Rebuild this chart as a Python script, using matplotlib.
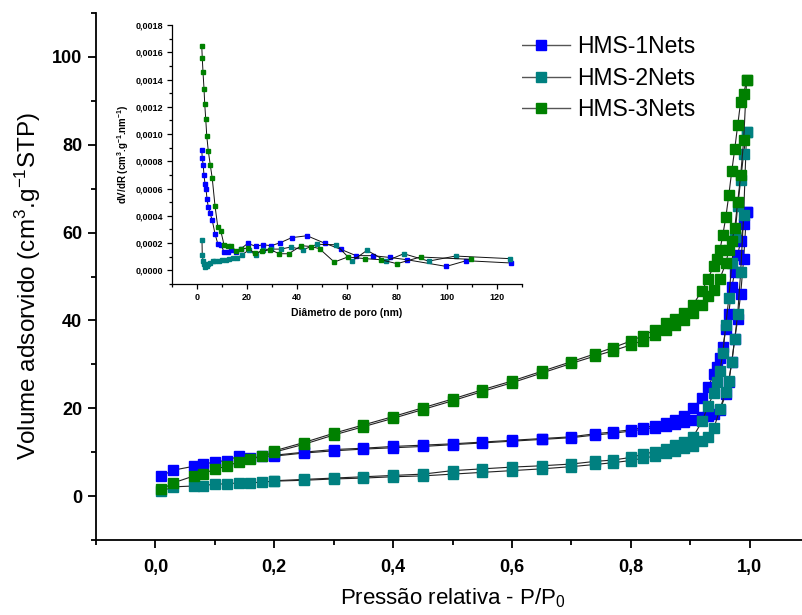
import matplotlib
matplotlib.use("Agg")
import matplotlib.pyplot as plt
from matplotlib.lines import Line2D
from matplotlib.ticker import MultipleLocator, FuncFormatter

plt.rcParams['font.family'] = ['Liberation Sans', 'DejaVu Sans']
plt.rcParams['mathtext.fontset'] = 'custom'
plt.rcParams['mathtext.rm'] = 'Liberation Sans'
plt.rcParams['mathtext.it'] = 'Liberation Sans:italic'
plt.rcParams['mathtext.bf'] = 'Liberation Sans:bold'

# ---------------- main isotherm data ----------------
labels = ["HMS-1Nets", "HMS-2Nets", "HMS-3Nets"]
colors = ["#0000FF", "#008080", "#008000"]

p_ads = [0.01, 0.03, 0.065, 0.08, 0.10, 0.12, 0.14, 0.16, 0.18, 0.20, 0.25, 0.30,
         0.35, 0.40, 0.45, 0.50, 0.55, 0.60, 0.65, 0.70, 0.74, 0.77, 0.80, 0.82,
         0.84, 0.86, 0.875, 0.89, 0.905, 0.92, 0.93, 0.94, 0.95, 0.96, 0.965,
         0.97, 0.975, 0.98, 0.985, 0.99, 0.995]
p_des = [0.995, 0.99, 0.985, 0.98, 0.975, 0.97, 0.965, 0.96, 0.955, 0.95, 0.945,
         0.94, 0.93, 0.92, 0.905, 0.89, 0.875, 0.86, 0.84, 0.82, 0.80, 0.77, 0.74,
         0.70, 0.65, 0.60, 0.55, 0.50, 0.45, 0.40, 0.35, 0.30, 0.25, 0.20]

hms1_ads = [4.6, 5.9, 6.8, 7.2, 7.8, 8.1, 9.1, 8.6, 9.1, 9.1, 9.8, 10.3, 10.7, 11.0,
            11.3, 11.7, 12.1, 12.5, 12.9, 13.3, 13.9, 14.3, 14.8, 15.2, 15.6, 15.9,
            16.3, 16.9, 17.4, 17.9, 18.3, 18.6, 19.5, 23.2, 26.0, 30.5, 35.8, 40.3,
            46.0, 54.0, 64.7]
hms1_des = [64.7, 62.0, 58.0, 55.0, 51.0, 47.5, 41.5, 38.1, 34.0, 31.5, 29.5, 27.8,
            24.8, 22.4, 20.1, 18.3, 17.3, 16.7, 16.0, 15.6, 15.1, 14.6, 14.2, 13.5,
            13.1, 12.7, 12.3, 11.9, 11.6, 11.3, 10.9, 10.6, 10.0, 9.3]

hms2_ads = [1.1, 2.1, 2.3, 2.4, 2.7, 2.8, 3.0, 3.0, 3.2, 3.4, 3.6, 3.9, 4.1, 4.4,
            4.6, 5.0, 5.4, 5.8, 6.2, 6.7, 7.2, 7.6, 8.1, 8.6, 9.1, 9.7, 10.3, 11.0,
            11.5, 12.5, 13.5, 15.5, 19.8, 23.8, 26.3, 30.5, 35.8, 41.5, 51.0, 64.0,
            83.0]
hms2_des = [83.0, 78.0, 72.0, 66.0, 59.0, 53.0, 45.0, 39.0, 32.5, 28.5, 26.0, 23.5,
            20.5, 17.0, 13.5, 12.4, 11.6, 10.8, 10.1, 9.5, 8.8, 8.2, 7.9, 7.3, 6.9,
            6.6, 6.2, 5.8, 5.0, 4.7, 4.4, 4.1, 3.8, 3.5]

hms3_ads = [1.5, 3.0, 4.6, 5.1, 6.1, 6.8, 7.8, 8.4, 9.1, 10.0, 11.8, 13.9, 15.8,
            17.7, 19.7, 21.7, 23.8, 25.8, 28.0, 30.2, 31.9, 33.1, 34.4, 35.4, 36.6,
            37.8, 39.0, 40.2, 41.6, 43.5, 45.5, 47.0, 49.5, 53.0, 56.0, 58.0, 61.0,
            67.0, 73.0, 81.0, 94.7]
hms3_des = [94.7, 91.5, 89.8, 84.5, 79.0, 74.0, 68.5, 63.5, 59.5, 56.0, 54.0, 52.5,
            49.5, 46.8, 43.6, 41.8, 40.3, 39.3, 37.8, 36.5, 35.3, 33.8, 32.4, 30.6,
            28.4, 26.2, 24.2, 22.1, 20.1, 18.1, 16.2, 14.3, 12.2, 10.3]

# ---------------- inset pore size distribution data ----------------
d1 = [1.9, 2.1, 2.5, 2.8, 3.2, 3.6, 4.0, 4.5, 5.2, 6.1, 7.2, 8.3, 9.5, 10.8, 12.2,
      13.6, 15.5, 17.6, 20.3, 23.5, 26.3, 29.7, 33.3, 37.9, 44.0, 51.0, 57.6, 63.6,
      70.3, 77.0, 84.0, 99.7, 107.7, 125.7]
v1 = [0.000885, 0.000824, 0.00077, 0.000697, 0.000636, 0.000599, 0.000526, 0.000465,
      0.000421, 0.000367, 0.000269, 0.000196, 0.000188, 0.000137, 0.000137, 0.000152,
      0.000134, 0.000159, 0.000198, 0.000176, 0.000188, 0.000181, 0.000203, 0.00024,
      0.000254, 0.0002, 0.000154, 0.000108, 0.000108, 0.000095, 0.000078, 0.000029,
      0.000071, 0.000054]

d2 = [2.0, 2.1, 2.5, 2.9, 3.3, 3.9, 4.5, 5.2, 6.3, 7.3, 8.6, 10.0, 11.4, 12.7, 14.2,
      15.9, 18.0, 20.6, 23.4, 26.2, 29.5, 33.5, 37.5, 42.4, 48.0, 55.7, 62.0, 68.0,
      75.6, 82.7, 92.7, 103.4, 125.2]
v2 = [0.00022, 0.000112, 0.000068, 0.000044, 0.000024, 0.000032, 0.000044, 0.000054,
      0.000068, 0.000066, 0.000068, 0.000073, 0.000073, 0.000086, 0.000093, 0.000088,
      0.000115, 0.000147, 0.000115, 0.000152, 0.000156, 0.000156, 0.000171, 0.000152,
      0.000191, 0.000188, 0.000068, 0.000147, 0.000068, 0.000122, 0.000068, 0.000105,
      0.000086]

d3 = [1.9, 2.1, 2.4, 2.8, 3.1, 3.5, 3.9, 4.5, 5.3, 6.1, 7.2, 8.3, 9.5, 10.8, 12.2,
      13.6, 15.6, 17.6, 20.3, 23.0, 25.9, 29.3, 32.9, 36.7, 41.7, 45.6, 49.0, 54.9,
      60.3, 67.3, 73.6, 80.0, 89.4, 109.4]
v3 = [0.001648, 0.00156, 0.001455, 0.001333, 0.001218, 0.001108, 0.000988, 0.000878,
      0.000775, 0.000675, 0.000474, 0.00032, 0.000291, 0.000188, 0.000181, 0.000178,
      0.000144, 0.000156, 0.000164, 0.000127, 0.000139, 0.000152, 0.000122, 0.000122,
      0.000181, 0.000175, 0.000159, 0.000061, 0.000098, 0.000086, 0.000078, 0.000049,
      0.000098, 0.000081]

# ---------------- figure ----------------
fig = plt.figure(figsize=(8.02, 6.15), dpi=100)
W, H = 802.0, 615.0
ax = fig.add_axes([96 / W, (H - 540) / H, 713 / W, (540 - 13) / H])

line_kw = dict(color="#222222", lw=0.8, marker="s", ms=6.7)
series = [(hms1_ads, hms1_des), (hms2_ads, hms2_des), (hms3_ads, hms3_des)]
for (ya, yd), c in zip(series, colors):
    ax.plot(p_ads, ya, mfc=c, mec=c, **line_kw)
    ax.plot(p_des, yd, mfc=c, mec=c, **line_kw)

ax.set_xlim(-0.1, 1.1)
ax.set_ylim(-10, 110)
ax.xaxis.set_major_locator(MultipleLocator(0.2))
ax.xaxis.set_minor_locator(MultipleLocator(0.1))
ax.yaxis.set_major_locator(MultipleLocator(20))
ax.yaxis.set_minor_locator(MultipleLocator(10))
ax.xaxis.set_major_formatter(FuncFormatter(lambda v, p: f"{v:.1f}".replace(".", ",")))
for s in ("top", "right"):
    ax.spines[s].set_visible(False)
for s in ("left", "bottom"):
    ax.spines[s].set_linewidth(1.3)
ax.tick_params(which="major", direction="out", length=6, width=1.3, labelsize=13)
ax.tick_params(which="minor", direction="out", length=3.5, width=1.3)
ax.tick_params(axis="x", which="major", pad=8)
ax.tick_params(axis="y", which="major", pad=4)
for t in ax.get_xticklabels() + ax.get_yticklabels():
    t.set_fontweight("bold")
ax.set_xlabel("Pressão relativa - P/P$_0$", fontsize=16)
ax.xaxis.set_label_coords(0.5, (540 - 586) / 527)
ax.set_ylabel("Volume adsorvido (cm$^3$.g$^{-1}$STP)", fontsize=17.5)
ax.yaxis.set_label_coords((43 - 96) / 713, (540 - 286) / 527)

handles = [Line2D([], [], color="#555555", lw=1.0, marker="s", ms=6.5,
                  mfc=c, mec=c) for c in colors]
ax.legend(handles, labels, loc="upper left", bbox_to_anchor=(512 / W, 1 - 35 / H),
          bbox_transform=fig.transFigure, frameon=False, fontsize=16.5,
          handlelength=2.53, handletextpad=0.3, labelspacing=0.38,
          borderaxespad=0, borderpad=0)

# ---------------- inset ----------------
ins = fig.add_axes([172 / W, (H - 284) / H, 350 / W, (284 - 25) / H])
ikw = dict(color="#111111", lw=0.7, marker="s", ms=3.4)
for d, v, c in [(d1, v1, colors[0]), (d2, v2, colors[1]), (d3, v3, colors[2])]:
    ins.plot(d, v, mfc=c, mec=c, **ikw)
ins.set_xlim(-10, 130)
ins.set_ylim(-0.0001, 0.0018)
ins.xaxis.set_major_locator(MultipleLocator(20))
ins.xaxis.set_minor_locator(MultipleLocator(10))
ins.yaxis.set_major_locator(MultipleLocator(0.0002))
ins.yaxis.set_minor_locator(MultipleLocator(0.0001))
ins.yaxis.set_major_formatter(FuncFormatter(lambda v, p: f"{v:.4f}".replace(".", ",")))
for s in ("top", "right"):
    ins.spines[s].set_visible(False)
for s in ("left", "bottom"):
    ins.spines[s].set_linewidth(0.9)
ins.tick_params(which="major", direction="out", length=3.5, width=0.9,
                labelsize=6.5, pad=3)
ins.tick_params(which="minor", direction="out", length=2, width=0.9)
for t in ins.get_xticklabels() + ins.get_yticklabels():
    t.set_fontweight("bold")
ins.set_xlabel("Diâmetro de poro (nm)", fontsize=7.5, fontweight="bold", labelpad=4)
ins.set_ylabel(r"dV/dR (cm$\mathbf{^3}$.g$\mathbf{^{-1}}$.nm$\mathbf{^{-1}}$)",
               fontsize=7, fontweight="bold", labelpad=3)

fig.savefig("out.png", dpi=100)
